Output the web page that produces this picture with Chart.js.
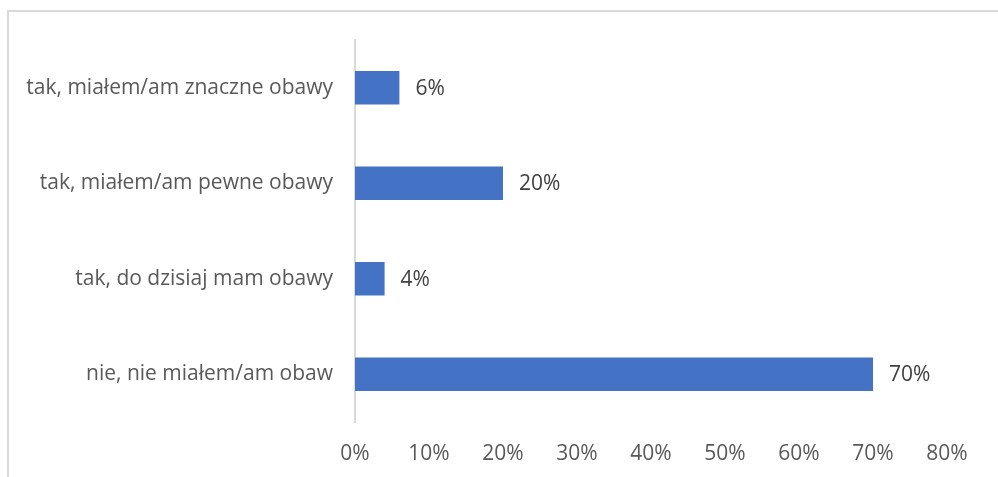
<!DOCTYPE html>
<html>
<head>
<meta charset="utf-8">
<script src="https://cdn.jsdelivr.net/npm/chart.js@4/dist/chart.umd.min.js"></script>
<style>
  html, body { margin: 0; padding: 0; background: #fff; }
  #wrap { position: relative; width: 998px; height: 477px; }
  #frame { position: absolute; left: 7px; top: 10px; right: -10px; bottom: -10px; border-left: 2px solid #d9d9d9; border-top: 2px solid #d9d9d9; }
  canvas { position: absolute; left: 0; top: 0; }
</style>
</head>
<body>
<div id="wrap">
  <div id="frame"></div>
  <canvas id="c" width="998" height="477"></canvas>
</div>
<script>
const categories = [
  "tak, miałem/am znaczne obawy",
  "tak, miałem/am pewne obawy",
  "tak, do dzisiaj mam obawy",
  "nie, nie miałem/am obaw"
];
const values = [6, 20, 4, 70];
const xMin = 0, xMax = 80, xStep = 10;

const FONT = "'Open Sans', sans-serif";

const dataLabels = {
  id: 'dataLabels',
  afterDatasetsDraw(chart) {
    const ctx = chart.ctx;
    const meta = chart.getDatasetMeta(0);
    ctx.save();
    ctx.font = "21px " + FONT;
    ctx.fillStyle = "#404040";
    ctx.textAlign = "left";
    ctx.textBaseline = "middle";
    meta.data.forEach((bar, i) => {
      ctx.fillText(values[i] + "%", bar.x + 16, bar.y + 1);
    });
    ctx.restore();
  }
};

new Chart(document.getElementById('c'), {
  type: 'bar',
  data: {
    labels: categories,
    datasets: [{
      data: values,
      backgroundColor: '#4472c4',
      borderWidth: 0,
      barPercentage: 0.35,
      categoryPercentage: 1.0
    }]
  },
  options: {
    indexAxis: 'y',
    responsive: false,
    animation: false,
    devicePixelRatio: 1,
    layout: { padding: { top: 40, right: 51, left: 0, bottom: 0 } },
    plugins: { legend: { display: false }, tooltip: { enabled: false } },
    scales: {
      x: {
        min: xMin, max: xMax,
        ticks: { stepSize: xStep, callback: v => v + '%', color: '#595959', font: { family: FONT, size: 21 }, padding: 19 },
        grid: { display: false, drawTicks: false },
        border: { display: false },
        afterFit: s => { s.height = 55; }
      },
      y: {
        ticks: { color: '#595959', font: { family: FONT, size: 21 }, padding: 22 },
        grid: { display: false, drawTicks: false },
        border: { display: true, color: '#d9d9d9', width: 2 },
        afterFit: s => { s.width = 355; }
      }
    }
  },
  plugins: [dataLabels]
});
</script>
</body>
</html>
